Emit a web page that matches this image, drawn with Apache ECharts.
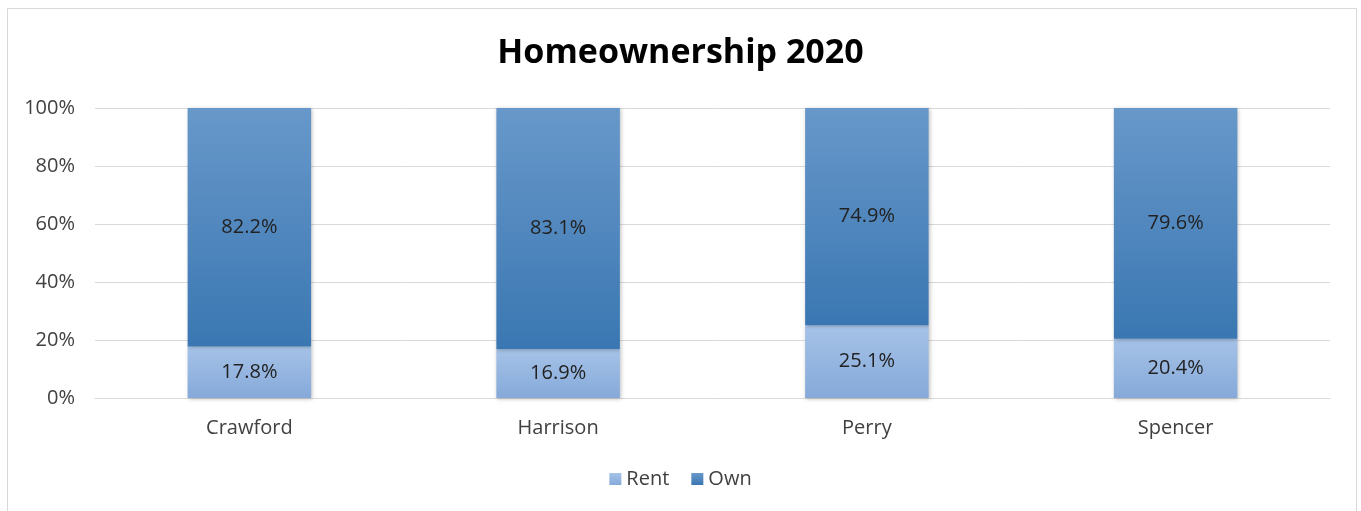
<!DOCTYPE html>
<html><head><meta charset="utf-8">
<script src="https://cdn.jsdelivr.net/npm/echarts@6/dist/echarts.min.js"></script>
<style>html,body{margin:0;padding:0;background:#fff}#c{width:1361px;height:511px}</style>
</head><body><div id="c"></div>
<script>
const categories = ['Crawford', 'Harrison', 'Perry', 'Spencer'];
const rent = [17.8, 16.9, 25.1, 20.4];
const own = [82.2, 83.1, 74.9, 79.6];
const yTicks = [0, 20, 40, 60, 80, 100];

const chart = echarts.init(document.getElementById('c'));
const font = '"Open Sans", sans-serif';
function grad(top, bottom) {
  return new echarts.graphic.LinearGradient(0, 0, 0, 1, [{offset: 0, color: top}, {offset: 1, color: bottom}]);
}
chart.setOption({
  animation: false,
  graphic: [{type: 'rect', shape: {x: 7.5, y: 8.5, width: 1349, height: 510}, style: {fill: 'none', stroke: '#d9d9d9', lineWidth: 1}}],
  title: {text: 'Homeownership 2020', left: 'center', top: 31, textStyle: {fontFamily: font, fontSize: 34, fontWeight: 'bold', color: '#000'}},
  legend: {bottom: 17, left: 'center', itemWidth: 12, itemHeight: 12, itemGap: 22, icon: 'rect',
    textStyle: {fontFamily: font, fontSize: 20, color: '#404040'}, data: ['Rent', 'Own']},
  grid: {left: 95, right: 31, top: 108, bottom: 113},
  xAxis: {type: 'category', data: categories, axisTick: {show: false},
    axisLine: {lineStyle: {color: '#d9d9d9', width: 1}},
    axisLabel: {fontFamily: font, fontSize: 20, color: '#404040', margin: 20}},
  yAxis: {type: 'value', min: 0, max: 100, interval: 20,
    axisLabel: {fontFamily: font, fontSize: 20, color: '#404040', margin: 20, formatter: v => yTicks.includes(v) ? v + '%' : ''},
    splitLine: {lineStyle: {color: '#d9d9d9', width: 1}}, axisLine: {show: false}, axisTick: {show: false}},
  series: [
    {name: 'Rent', type: 'bar', stack: 't', data: rent, barWidth: '40%',
      itemStyle: {color: grad('#a6c3e8', '#85a9d9'), shadowColor: 'rgba(0,0,0,0.25)', shadowBlur: 4, shadowOffsetX: 1, shadowOffsetY: 1},
      label: {show: true, position: 'inside', formatter: p => p.value.toFixed(1) + '%', fontFamily: font, fontSize: 20, color: '#222'}},
    {name: 'Own', type: 'bar', stack: 't', data: own, barWidth: '40%',
      itemStyle: {color: grad('#6898ca', '#3a77b2'), shadowColor: 'rgba(0,0,0,0.25)', shadowBlur: 4, shadowOffsetX: 1, shadowOffsetY: 1},
      label: {show: true, position: 'inside', formatter: p => p.value.toFixed(1) + '%', fontFamily: font, fontSize: 20, color: '#222'}}
  ]
});
</script></body></html>
